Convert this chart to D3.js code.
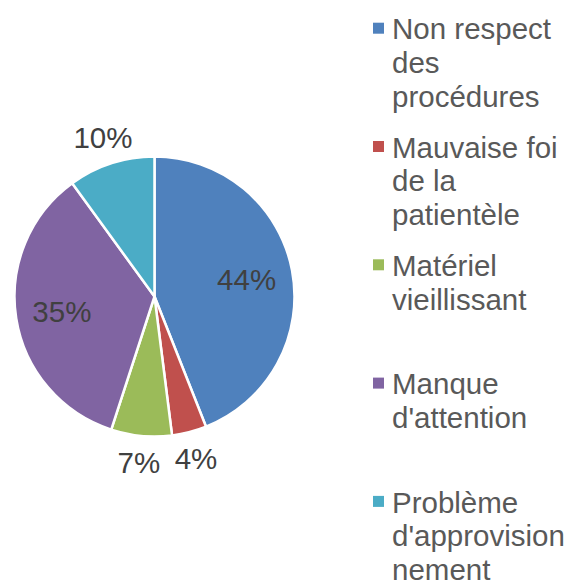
<!DOCTYPE html>
<html>
<head>
<meta charset="utf-8">
<script src="https://cdn.jsdelivr.net/npm/d3@7"></script>
<style>
  body { margin: 0; background: #fff; }
  text { font-family: "Liberation Sans", Arial, sans-serif; }
</style>
</head>
<body>
<div id="chart"></div>
<script>
var categories = ["Non respect des procédures", "Mauvaise foi de la patientèle",
                  "Matériel vieillissant", "Manque d'attention",
                  "Problème d'approvisionnement"];
var values = [44, 4, 7, 35, 10];
var colors = ["#4F81BD", "#C0504D", "#9BBB59", "#8064A2", "#4BACC6"];

var width = 568,
    height = 580,
    radius = 140,
    cx = 154.5,
    cy = 296.5,
    fontSize = 29.5,
    lineH = 33.8;

var svg = d3.select("#chart").append("svg")
    .attr("width", width)
    .attr("height", height);

var pie = d3.pie().sort(null).value(function(d) { return d; });
var arcs = pie(values);

var arc = d3.arc().innerRadius(0).outerRadius(radius);

var g = svg.append("g")
    .attr("transform", "translate(" + cx + "," + cy + ")");

g.selectAll("path")
    .data(arcs)
  .enter().append("path")
    .attr("d", arc)
    .attr("fill", function(d, i) { return colors[i]; })
    .attr("stroke", "#fff")
    .attr("stroke-width", 2.5)
    .attr("stroke-linejoin", "round");

// big slices get their label inside, small ones outside
g.selectAll("text.lbl")
    .data(arcs)
  .enter().append("text")
    .attr("class", "lbl")
    .attr("x", function(d) {
      var a = (d.startAngle + d.endAngle) / 2;
      var r = d.data >= 20 ? radius * 0.67 : radius + 27;
      return r * Math.sin(a);
    })
    .attr("y", function(d) {
      var a = (d.startAngle + d.endAngle) / 2;
      var r = d.data >= 20 ? radius * 0.67 : radius + 27;
      return -r * Math.cos(a);
    })
    .attr("dy", "0.36em")
    .attr("text-anchor", "middle")
    .style("font-size", fontSize + "px")
    .attr("fill", "#404040")
    .text(function(d) { return d.data + "%"; });

// legend
var legend = svg.append("g").attr("transform", "translate(373,0)");
var maxW = 175;

var item = legend.selectAll("g")
    .data(categories)
  .enter().append("g")
    .attr("transform", function(d, i) { return "translate(0," + (39.3 + i * lineH * 3.5) + ")"; });

item.append("rect")
    .attr("x", 0)
    .attr("y", -16.6)
    .attr("width", 11)
    .attr("height", 11)
    .attr("fill", function(d, i) { return colors[i]; });

item.each(function(d) {
  var t = d3.select(this).append("text")
      .attr("x", 19)
      .attr("y", 0)
      .style("font-size", fontSize + "px")
      .attr("fill", "#595959");
  var probe = t.append("tspan");
  function fits(s) { probe.text(s); return probe.node().getComputedTextLength() <= maxW; }
  var lines = [], line = "";
  d.split(" ").forEach(function(w) {
    var test = line ? line + " " + w : w;
    if (fits(test)) { line = test; return; }
    if (line) lines.push(line);
    line = "";
    // word too long: break it by characters
    var part = "";
    for (var k = 0; k < w.length; k++) {
      if (fits(part + w[k])) part += w[k];
      else { lines.push(part); part = w[k]; }
    }
    line = part;
  });
  if (line) lines.push(line);
  probe.remove();
  lines.forEach(function(l, j) {
    t.append("tspan").attr("x", 19).attr("y", j * lineH).text(l);
  });
});
</script>
</body>
</html>
